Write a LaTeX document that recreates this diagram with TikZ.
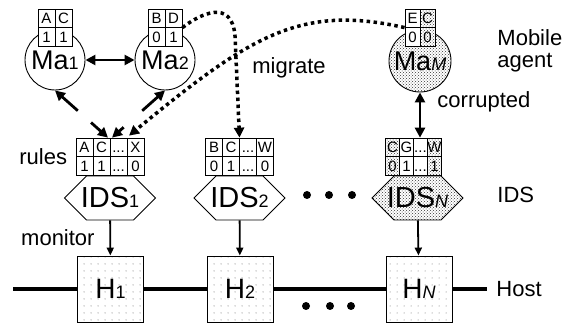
\documentclass[tikz,border=0pt]{standalone}
\usepackage{fontspec}
\setmainfont{Liberation Sans}
\usetikzlibrary{arrows.meta,positioning,shapes.symbols,matrix,patterns,patterns.meta}
\newcommand{\smallsub}[1]{{\fontsize{18}{18}\selectfont #1}}

\begin{document}
\begin{tikzpicture}[x=1pt, y=1pt, font=\fontsize{22}{22}\selectfont, line width=0.9pt,
  agent/.style={circle, draw, minimum size=60pt, inner sep=0pt, font=\fontsize{27}{27}\selectfont},
  ids/.style={signal, signal to=west and east, signal pointer angle=90, draw, inner xsep=-8pt, inner ysep=0pt,
    minimum width=91pt, minimum height=44pt, font=\fontsize{29}{29}\selectfont},
  host/.style={draw, minimum size=66pt, inner sep=0pt, pattern={Dots[distance=6.5pt, radius=0.55pt]},
    pattern color=black!60, font=\fontsize{28}{28}\selectfont},
  bad/.style={pattern=crosshatch dots, pattern color=black!80},
  ruletab/.style={matrix of nodes, inner sep=0pt, outer sep=0pt, column sep=-0.9pt, row sep=-0.9pt,
    nodes={draw, preaction={fill=white}, minimum width=17pt, minimum height=18.5pt, inner sep=0pt,
      text height=10.7pt, text depth=0pt, font=\fontsize{15}{15}\selectfont}},
  arr/.style={-{Triangle[length=10pt, width=10pt]}, line width=2.8pt},
  dblarr/.style={{Triangle[length=10pt, width=10pt]}-{Triangle[length=10pt, width=10pt]}, line width=2.8pt},
  mon/.style={-{Triangle[length=8pt, width=7pt]}, line width=1.8pt},
  mig/.style={-{Triangle[length=10pt, width=10pt]}, line width=3.5pt, dash pattern=on 3.5pt off 3.5pt},
  bus/.style={line width=4.5pt},
  lbl/.style={inner sep=0pt}]
\useasboundingbox (0,0) rectangle (575,326);

% mobile agents
\node[agent] (ma1) at (55,266) {Ma\smallsub{1}};
\node[agent] (ma2) at (165,266) {Ma\smallsub{2}};
\node[agent, bad, minimum size=62pt] (mam) at (420,265) {Ma\smallsub{\textit{M}}};
\matrix[ruletab, above=-17pt of ma1] (tab1) {A & C\\ 1 & 1\\};
\matrix[ruletab, above=-17pt of ma2] (tab2) {B & D\\ 0 & 1\\};
\matrix[ruletab, above=-17pt of mam, nodes={minimum width=15pt}] (tabm) {E & |[bad]| C\\ 0 & |[bad]| 0\\};

% IDS with rule tables
\node[ids] (ids1) at (110,128) {IDS\smallsub{1}};
\node[ids] (ids2) at (239.5,128) {IDS\smallsub{2}};
\node[ids, bad] (idsn) at (417.5,128) {IDS\smallsub{\textit{N}}};
\matrix[ruletab, above=0pt of ids1] (rule1) {A & C & ... & X\\ 1 & 1 & ... & 0\\};
\matrix[ruletab, above=0pt of ids2] (rule2) {B & C & ... & W\\ 0 & 1 & ... & 0\\};
\matrix[ruletab, above=0pt of idsn, xshift=-4pt, nodes={minimum width=14pt}] (rulen)
  {|[bad]| C & G & ... & |[bad]| W\\ |[bad]| 0 & 1 & ... & |[bad]| 1\\};

% hosts
\node[host] (h1) at (110.5,37) {H\smallsub{1}};
\node[host] (h2) at (240,37) {H\smallsub{2}};
\node[host] (hn) at (419,37) {H\smallsub{\textit{N}}};
\coordinate (busl) at (13,37);
\coordinate (busr) at (487,37);
\draw[bus] (busl) -- (h1.west) (h1.east) -- (h2.west) (h2.east) -- (hn.west) (hn.east) -- (busr);

\foreach \x in {307,329,352} \fill (\x,131) circle (4);
\foreach \x in {306,330,351} \fill (\x,20) circle (4);

% connectors
\draw[dblarr] (ma1) -- (ma2);
\path (ma1.south) -- coordinate[pos=.43] (g1a) coordinate[pos=.68] (g1b) ([xshift=-2pt]rule1.north);
\draw[arr] (g1a) -- (ma1.south);
\draw[arr] (g1b) -- ([xshift=-2pt]rule1.north);
\path (ma2.south) -- coordinate[pos=.43] (g2a) coordinate[pos=.78] (g2b) ([xshift=2pt]rule1.north);
\draw[arr] (g2a) -- (ma2.south);
\draw[arr] (g2b) -- ([xshift=2pt]rule1.north);
\draw[dblarr] (mam.south) -- (mam.south |- rulen.north);
\foreach \i/\j in {ids1/h1, ids2/h2, idsn/hn} \draw[mon] (\i) -- (\j);

% migration
\coordinate (bend) at (235,290);
\coordinate (r1in) at ([xshift=19pt, yshift=2pt]rule1.north);
\draw[mig] (tab2.east) .. controls (200,312) and (232,328) .. (bend) -- (rule2.north);
\draw[mig] (tabm.west) .. controls (300,322) and (250,290) .. (r1in);

% labels
\node[lbl, left=8pt of rule1] (lrules) {rules};
\node[lbl, anchor=east] (lmon) at (95,88) {monitor};
\node[lbl] (lmig) at (289,258) {migrate};
\node[lbl, align=left, anchor=west] (lmob) at (497,275) {Mobile\\agent};
\node[lbl, anchor=west] (lcor) at (437,224) {corrupted};
\node[lbl, anchor=west] (lids) at (497,131) {IDS};
\node[lbl, anchor=west] (lhost) at (496,37) {Host};
\end{tikzpicture}
\end{document}
